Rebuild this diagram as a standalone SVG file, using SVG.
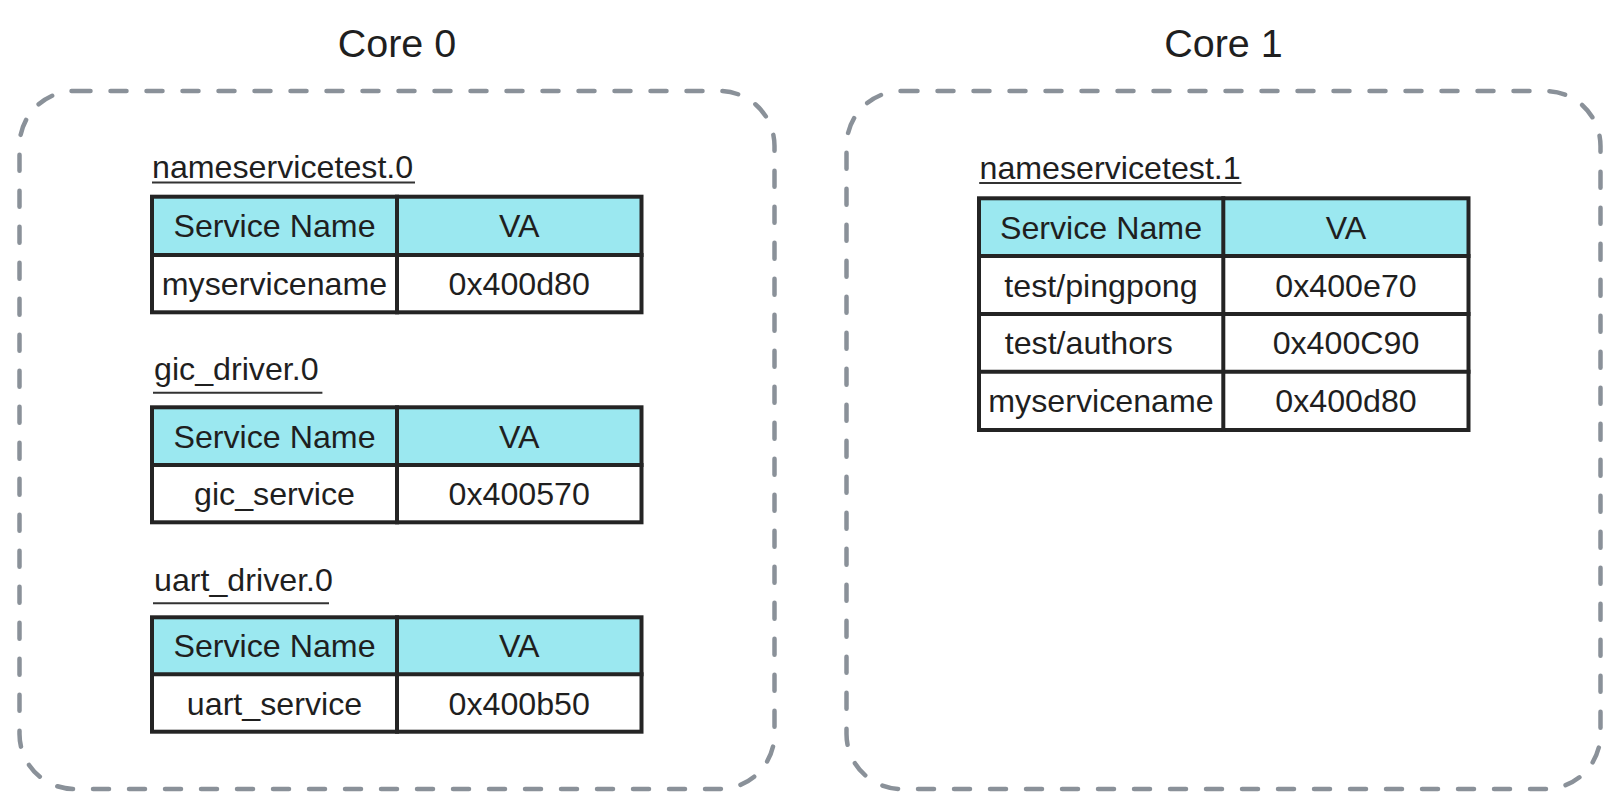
<svg xmlns="http://www.w3.org/2000/svg" width="1620" height="809" viewBox="0 0 1620 809">
<style>
.core{fill:none;stroke:#8a9199;stroke-width:4.5;stroke-dasharray:16 20;stroke-linecap:round}
.title{font-family:"Liberation Sans",Arial,sans-serif;font-size:39.5px;fill:#1f1f1f;text-anchor:middle}
.lbl{font-family:"Liberation Sans",Arial,sans-serif;font-size:32.2px;fill:#1f1f1f}
.t{font-family:"Liberation Sans",Arial,sans-serif;font-size:32.2px;fill:#1f1f1f;text-anchor:middle}
.hdr{fill:#9be8f0}
.cell{fill:#ffffff}
.grid{stroke:#242424;stroke-width:4;fill:none;stroke-linecap:square}
.ul{stroke:#333;stroke-width:2}
</style>
<rect width="1620" height="809" fill="#ffffff"/>

<g id="core0">
  <text class="title" x="397" y="57">Core 0</text>
  <rect class="core" x="19.5" y="91" width="755" height="698" rx="55" ry="55"/>
</g>
<g id="core1">
  <text class="title" x="1223.5" y="57">Core 1</text>
  <rect class="core" x="846.5" y="91" width="754" height="698" rx="55" ry="55"/>
</g>

<g id="nameservicetest0">
  <text class="lbl" x="152" y="178">nameservicetest.0</text>
  <line class="ul" x1="152" y1="182.5" x2="415" y2="182.5"/>
  <rect class="hdr" x="152" y="196.7" width="489.5" height="58.3"/>
  <rect class="cell" x="152" y="255" width="489.5" height="57.3"/>
  <rect class="grid" x="152" y="196.7" width="489.5" height="115.6"/>
  <line class="grid" x1="152" y1="255" x2="641.5" y2="255"/>
  <line class="grid" x1="397" y1="196.7" x2="397" y2="312.3"/>
  <text class="t" x="274.5" y="237.4">Service Name</text>
  <text class="t" x="519.2" y="237.4">VA</text>
  <text class="t" x="274.5" y="295.2">myservicename</text>
  <text class="t" x="519.2" y="295.2">0x400d80</text>
</g>

<g id="gic_driver0">
  <text class="lbl" x="154" y="380">gic_driver.0</text>
  <line class="ul" x1="153" y1="392.7" x2="322.4" y2="392.7"/>
  <rect class="hdr" x="152" y="407.3" width="489.5" height="57.7"/>
  <rect class="cell" x="152" y="465" width="489.5" height="57.3"/>
  <rect class="grid" x="152" y="407.3" width="489.5" height="115"/>
  <line class="grid" x1="152" y1="465" x2="641.5" y2="465"/>
  <line class="grid" x1="397" y1="407.3" x2="397" y2="522.3"/>
  <text class="t" x="274.5" y="447.6">Service Name</text>
  <text class="t" x="519.2" y="447.6">VA</text>
  <text class="t" x="274.5" y="505.2">gic_service</text>
  <text class="t" x="519.2" y="505.2">0x400570</text>
</g>

<g id="uart_driver0">
  <text class="lbl" x="154" y="590.7">uart_driver.0</text>
  <line class="ul" x1="153" y1="603.3" x2="329" y2="603.3"/>
  <rect class="hdr" x="152" y="617.3" width="489.5" height="57"/>
  <rect class="cell" x="152" y="674.3" width="489.5" height="57.4"/>
  <rect class="grid" x="152" y="617.3" width="489.5" height="114.4"/>
  <line class="grid" x1="152" y1="674.3" x2="641.5" y2="674.3"/>
  <line class="grid" x1="397" y1="617.3" x2="397" y2="731.7"/>
  <text class="t" x="274.5" y="657.2">Service Name</text>
  <text class="t" x="519.2" y="657.2">VA</text>
  <text class="t" x="274.5" y="714.5">uart_service</text>
  <text class="t" x="519.2" y="714.5">0x400b50</text>
</g>

<g id="nameservicetest1">
  <text class="lbl" x="979.5" y="179">nameservicetest.1</text>
  <line class="ul" x1="979.2" y1="183" x2="1241.4" y2="183"/>
  <rect class="hdr" x="979" y="198.3" width="489.5" height="57.7"/>
  <rect class="cell" x="979" y="256" width="489.5" height="174"/>
  <rect class="grid" x="979" y="198.3" width="489.5" height="231.7"/>
  <line class="grid" x1="979" y1="256" x2="1468.5" y2="256"/>
  <line class="grid" x1="979" y1="314" x2="1468.5" y2="314"/>
  <line class="grid" x1="979" y1="371.7" x2="1468.5" y2="371.7"/>
  <line class="grid" x1="1223.3" y1="198.3" x2="1223.3" y2="430"/>
  <text class="t" x="1101" y="238.7">Service Name</text>
  <text class="t" x="1346" y="238.7">VA</text>
  <text class="t" x="1101" y="296.5">test/pingpong</text>
  <text class="t" x="1346" y="296.5">0x400e70</text>
  <text class="lbl" x="1004.7" y="354.2">test/authors</text>
  <text class="t" x="1346" y="354.2">0x400C90</text>
  <text class="t" x="1101" y="412.2">myservicename</text>
  <text class="t" x="1346" y="412.2">0x400d80</text>
</g>
</svg>
